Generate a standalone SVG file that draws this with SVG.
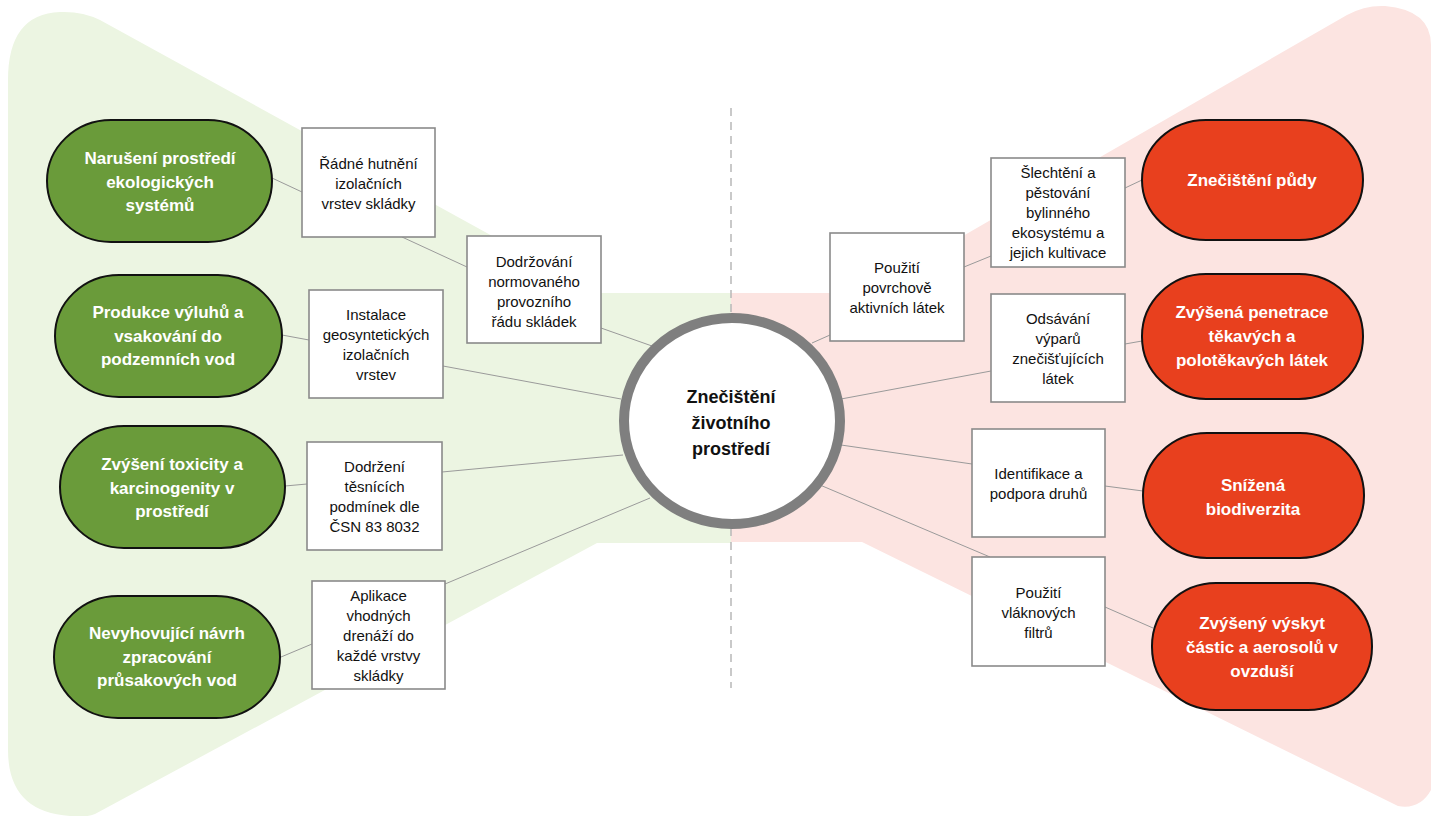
<svg xmlns="http://www.w3.org/2000/svg" width="1431" height="816" viewBox="0 0 1431 816">
<style>
.bg-g{fill:#ECF5E2}
.bg-r{fill:#FCE4E1}
.pill-g{fill:#6A9B3A;stroke:#111;stroke-width:2}
.pill-r{fill:#E8401E;stroke:#111;stroke-width:2}
.box{fill:#fff;stroke:#8a8a8a;stroke-width:1.6}
.conn line{stroke:#9a9a9a;stroke-width:1}
.pt{font-family:"Liberation Sans",Arial,sans-serif;font-weight:bold;font-size:17px;fill:#fff;text-anchor:middle}
.bt{font-family:"Liberation Sans",Arial,sans-serif;font-size:15px;fill:#111;text-anchor:middle}
.ct{font-family:"Liberation Sans",Arial,sans-serif;font-weight:bold;font-size:18px;fill:#111;text-anchor:middle}
</style>
<rect width="1431" height="816" fill="#fff"/>
<g id="background">
<path class="bg-g" d="M8,80 Q8,14 60,12 Q82,11 100,20 L596,293 L731,293 L731,543 L597,543 L95,814 Q84,818 70,816 Q8,812 8,750 Z"/>
<path class="bg-r" d="M731,293 L864,293 L1347,15 Q1365,5 1385,6 Q1431,10 1431,45 L1431,790 Q1420,810 1398,806 L862,542 L731,542 Z"/>
<line x1="731" y1="108" x2="731" y2="688" stroke="#b8b8b8" stroke-width="1.5" stroke-dasharray="8 6"/>
</g>
<g id="connectors" class="conn">
<line x1="272" y1="178" x2="302" y2="192"/>
<line x1="402" y1="237" x2="467" y2="267"/>
<line x1="601" y1="328" x2="652" y2="346"/>
<line x1="282" y1="335" x2="309" y2="340"/>
<line x1="443" y1="366" x2="621" y2="399"/>
<line x1="285" y1="486" x2="307" y2="484"/>
<line x1="442" y1="472" x2="623" y2="455"/>
<line x1="281" y1="657" x2="312" y2="644"/>
<line x1="445" y1="584" x2="650" y2="498"/>
<line x1="812" y1="343" x2="830" y2="335"/>
<line x1="964" y1="267" x2="991" y2="256"/>
<line x1="1125" y1="188" x2="1142" y2="180"/>
<line x1="841" y1="399" x2="991" y2="371"/>
<line x1="1125" y1="344" x2="1142" y2="341"/>
<line x1="841" y1="445" x2="972" y2="464"/>
<line x1="1105" y1="486" x2="1143" y2="491"/>
<line x1="820" y1="485" x2="990" y2="557"/>
<line x1="1105" y1="607" x2="1153" y2="628"/>
</g>
<g id="center">
<ellipse cx="732" cy="421" rx="108" ry="103" fill="#fff" stroke="#7f7f7f" stroke-width="10"/>
<text class="ct" x="731" y="403">Znečištění</text>
<text class="ct" x="731" y="429">životního</text>
<text class="ct" x="731" y="455">prostředí</text>
</g>
<g id="g1">
<rect class="pill-g" x="47" y="120" width="225" height="122" rx="64" ry="61"/>
<text class="pt" x="160" y="164">Narušení prostředí</text>
<text class="pt" x="160" y="187.5">ekologických</text>
<text class="pt" x="160" y="211">systémů</text>
</g>
<g id="g2">
<rect class="pill-g" x="55" y="275" width="227" height="122" rx="64" ry="61"/>
<text class="pt" x="168" y="318">Produkce výluhů a</text>
<text class="pt" x="168" y="341.5">vsakování do</text>
<text class="pt" x="168" y="365">podzemních vod</text>
</g>
<g id="g3">
<rect class="pill-g" x="60" y="426" width="225" height="122" rx="64" ry="61"/>
<text class="pt" x="172" y="470">Zvýšení toxicity a</text>
<text class="pt" x="172" y="493.5">karcinogenity v</text>
<text class="pt" x="172" y="517">prostředí</text>
</g>
<g id="g4">
<rect class="pill-g" x="54" y="596" width="226" height="122" rx="64" ry="61"/>
<text class="pt" x="167" y="639">Nevyhovující návrh</text>
<text class="pt" x="167" y="662.5">zpracování</text>
<text class="pt" x="167" y="686">průsakových vod</text>
</g>
<g id="r1">
<rect class="pill-r" x="1142" y="120" width="221" height="120" rx="64" ry="60"/>
<text class="pt" x="1252" y="186">Znečištění půdy</text>
</g>
<g id="r2">
<rect class="pill-r" x="1142" y="274" width="221" height="125" rx="64" ry="62"/>
<text class="pt" x="1252" y="318">Zvýšená penetrace</text>
<text class="pt" x="1252" y="342">těkavých a</text>
<text class="pt" x="1252" y="366">polotěkavých látek</text>
</g>
<g id="r3">
<rect class="pill-r" x="1143" y="433" width="221" height="125" rx="64" ry="62"/>
<text class="pt" x="1253" y="491">Snížená</text>
<text class="pt" x="1253" y="515">biodiverzita</text>
</g>
<g id="r4">
<rect class="pill-r" x="1152" y="583" width="220" height="127" rx="64" ry="63"/>
<text class="pt" x="1262" y="629">Zvýšený výskyt</text>
<text class="pt" x="1262" y="653">částic a aerosolů v</text>
<text class="pt" x="1262" y="677">ovzduší</text>
</g>
<g id="bA">
<rect class="box" x="302" y="128" width="133" height="109"/>
<text class="bt" x="368.5" y="169">Řádné hutnění</text>
<text class="bt" x="368.5" y="189">izolačních</text>
<text class="bt" x="368.5" y="209">vrstev skládky</text>
</g>
<g id="bB">
<rect class="box" x="467" y="236" width="134" height="107"/>
<text class="bt" x="534" y="267">Dodržování</text>
<text class="bt" x="534" y="287">normovaného</text>
<text class="bt" x="534" y="307">provozního</text>
<text class="bt" x="534" y="327">řádu skládek</text>
</g>
<g id="bC">
<rect class="box" x="309" y="290" width="134" height="108"/>
<text class="bt" x="376" y="320">Instalace</text>
<text class="bt" x="376" y="340">geosyntetických</text>
<text class="bt" x="376" y="360">izolačních</text>
<text class="bt" x="376" y="380">vrstev</text>
</g>
<g id="bD">
<rect class="box" x="307" y="442" width="135" height="108"/>
<text class="bt" x="374.5" y="472">Dodržení</text>
<text class="bt" x="374.5" y="492">těsnících</text>
<text class="bt" x="374.5" y="512">podmínek dle</text>
<text class="bt" x="374.5" y="532">ČSN 83 8032</text>
</g>
<g id="bE">
<rect class="box" x="312" y="581" width="133" height="108"/>
<text class="bt" x="378.5" y="601">Aplikace</text>
<text class="bt" x="378.5" y="621">vhodných</text>
<text class="bt" x="378.5" y="641">drenáží do</text>
<text class="bt" x="378.5" y="661">každé vrstvy</text>
<text class="bt" x="378.5" y="681">skládky</text>
</g>
<g id="bF">
<rect class="box" x="830" y="233" width="134" height="108"/>
<text class="bt" x="897" y="273">Použití</text>
<text class="bt" x="897" y="293">povrchově</text>
<text class="bt" x="897" y="313">aktivních látek</text>
</g>
<g id="bG">
<rect class="box" x="991" y="158" width="134" height="109"/>
<text class="bt" x="1058" y="178">Šlechtění a</text>
<text class="bt" x="1058" y="198">pěstování</text>
<text class="bt" x="1058" y="218">bylinného</text>
<text class="bt" x="1058" y="238">ekosystému a</text>
<text class="bt" x="1058" y="258">jejich kultivace</text>
</g>
<g id="bH">
<rect class="box" x="991" y="294" width="134" height="108"/>
<text class="bt" x="1058" y="324">Odsávání</text>
<text class="bt" x="1058" y="344">výparů</text>
<text class="bt" x="1058" y="364">znečišťujících</text>
<text class="bt" x="1058" y="384">látek</text>
</g>
<g id="bI">
<rect class="box" x="972" y="429" width="133" height="108"/>
<text class="bt" x="1038.5" y="479">Identifikace a</text>
<text class="bt" x="1038.5" y="499">podpora druhů</text>
</g>
<g id="bJ">
<rect class="box" x="972" y="557" width="133" height="109"/>
<text class="bt" x="1038.5" y="598">Použití</text>
<text class="bt" x="1038.5" y="618">vláknových</text>
<text class="bt" x="1038.5" y="638">filtrů</text>
</g>
</svg>
